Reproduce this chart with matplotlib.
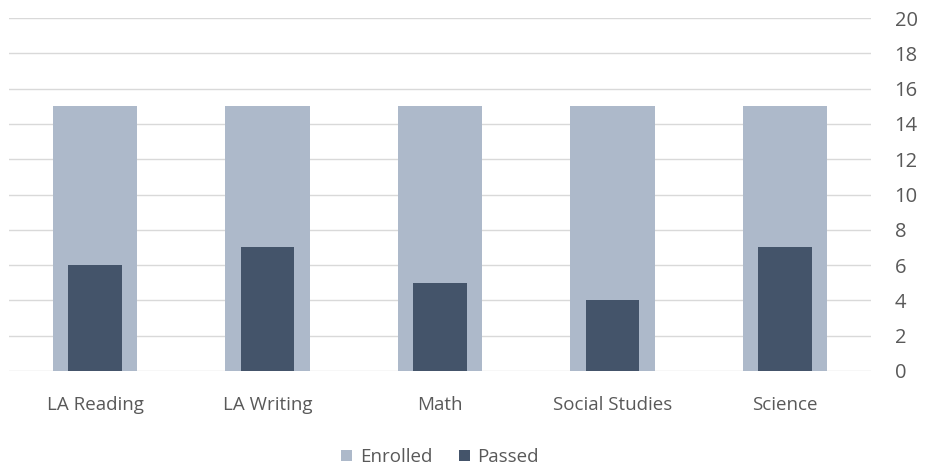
import numpy as np
import matplotlib.pyplot as plt

subjects = ["LA Reading", "LA Writing", "Math", "Social Studies", "Science"]
enrolled = [15, 15, 15, 15, 15]
passed = [6, 7, 5, 4, 7]

plt.rcParams['font.family'] = ['Open Sans', 'DejaVu Sans']

fig = plt.figure(figsize=(9.25, 4.68), dpi=100)
ax = fig.add_axes([0.0097, 0.2073, 0.9319, 0.7542])

x = np.arange(len(subjects))
ax.bar(x, enrolled, width=0.49, color='#adb9ca', label='Enrolled', zorder=2)
ax.bar(x, passed, width=0.31, color='#44546a', label='Passed', zorder=3)

ax.set_xlim(-0.5, len(subjects) - 0.5)
ax.set_ylim(0, 20)
ax.set_yticks(np.arange(0, 21, 2))
ax.yaxis.tick_right()
ax.yaxis.grid(True, color='#d9d9d9', linewidth=1, zorder=0)
ax.set_axisbelow(True)
ax.set_xticks(x)
ax.set_xticklabels(subjects)
ax.tick_params(axis='both', length=0, colors='#595959')
ax.tick_params(axis='x', pad=18, labelsize=13.5)
ax.tick_params(axis='y', pad=17, labelsize=14.5)
for s in ax.spines.values():
    s.set_visible(False)

ax.legend(loc='center', bbox_to_anchor=(0.5, -0.244), ncol=2, frameon=False,
          fontsize=13.5, labelcolor='#595959', handlelength=0.6, handleheight=0.6,
          handletextpad=0.4, columnspacing=1.4, borderpad=0)

fig.savefig('out.png', dpi=100)
